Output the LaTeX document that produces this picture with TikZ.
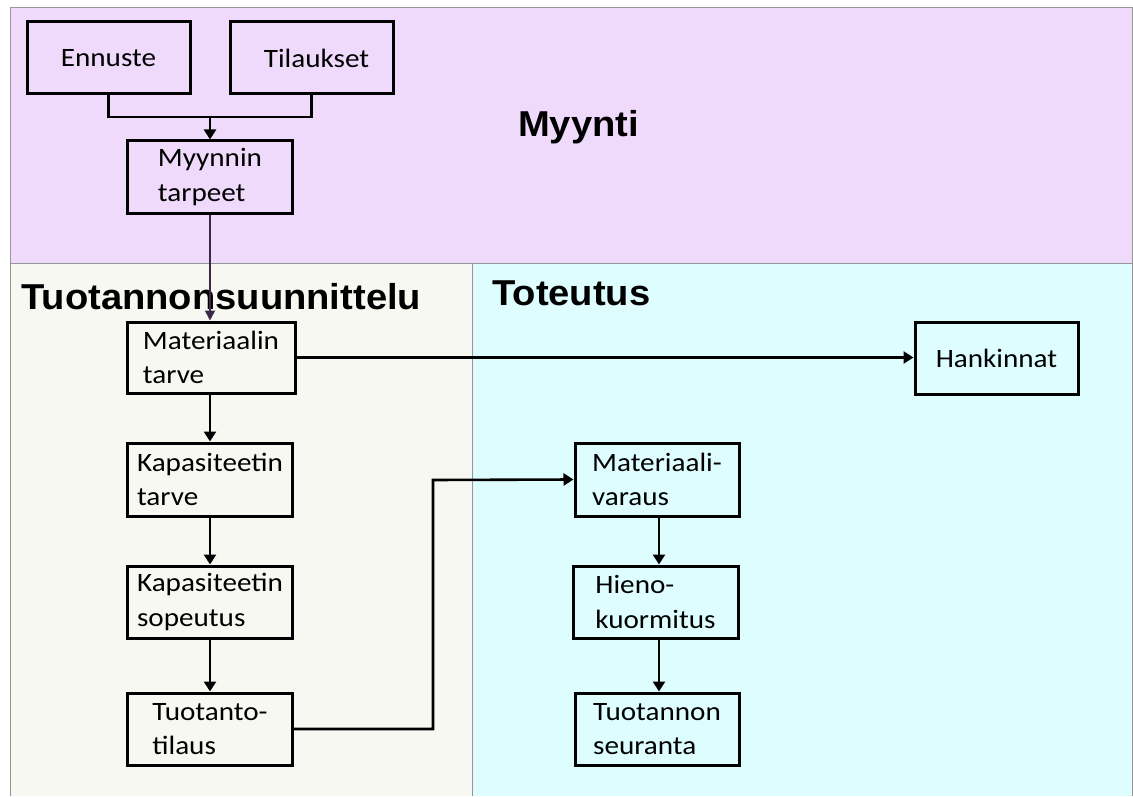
\documentclass[tikz,border=0pt]{standalone}
\usepackage{fontspec}
\usetikzlibrary{arrows.meta}
\newfontfamily\boxfont[FakeStretch=1.1]{Carlito}
\newfontfamily\titlefont[FakeStretch=1.06]{Liberation Sans}
\definecolor{salesbg}{RGB}{239,218,252}
\definecolor{planbg}{RGB}{248,248,242}
\definecolor{execbg}{RGB}{221,253,255}
\definecolor{panelline}{RGB}{150,150,150}
\definecolor{feedline}{RGB}{58,40,70}
\tikzset{
  flowbox/.style={draw=black, line width=3pt, inner sep=0pt, align=left,
    minimum width=#1, minimum height=72pt,
    font=\boxfont\fontsize{26.5}{34.5}\selectfont},
  flowbox/.default=165pt,
  flowarrow/.style={line width=2.6pt, -{Triangle[length=10pt,width=12pt]}},
  flowline/.style={line width=2.6pt},
  thinarrow/.style={line width=1.6pt, color=feedline, -{Triangle[length=10pt,width=10pt]}},
  paneltitle/.style={anchor=base west, inner sep=0pt,
    font=\titlefont\bfseries\fontsize{36}{40}\selectfont}
}
\begin{document}
\begin{tikzpicture}[x=1pt,y=-1pt]
\useasboundingbox (0,0) rectangle (1133,797);
% panel backgrounds
\fill[salesbg] (10,8) rectangle (1132,263);
\fill[planbg] (10,263) rectangle (472,796);
\fill[execbg] (472,263) rectangle (1132,796);
\draw[panelline, line width=1pt] (10,796) -- (10,8) -- (1132,8) -- (1132,796);
\draw[panelline, line width=1pt] (10,263) -- (1132,263);
\draw[panelline, line width=1pt] (472,263) -- (472,796);

% panel titles
\node[paneltitle] (tmyynti) at (518,137) {Myynti};
\node[paneltitle] (tsuunn) at (21,309) {Tuotannonsuunnittelu};
\node[paneltitle] (ttoteutus) at (492,305) {Toteutus};

% sales boxes
\node[flowbox=163pt] (ennuste) at (108.5,58) {Ennuste};
\node[flowbox=163pt] (tilaukset) at (311.5,58) {\hspace*{10pt}Tilaukset};
\node[flowbox] (myyntar) at (210,177) {Myynnin\\tarpeet};

% planning column
\node[flowbox=168pt, minimum height=71pt] (mattarve) at (211,357.5) {Materiaalin\\tarve};
\node[flowbox, minimum height=73pt] (kaptarve) at (210,479.5) {Kapasiteetin\\tarve};
\node[flowbox] (kapsop) at (210,602) {Kapasiteetin\\sopeutus};
\node[flowbox] (tilaus) at (210,729) {Tuotanto-\\tilaus};

% execution column
\node[flowbox=163pt] (hankinnat) at (996.5,358) {Hankinnat};
\node[flowbox=164pt, minimum height=73pt] (matvaraus) at (657,479.5) {Materiaali-\\varaus};
\node[flowbox] (hieno) at (655.5,602) {Hieno-\\kuormitus};
\node[flowbox=164pt] (seuranta) at (657,729) {Tuotannon\\seuranta};

% connectors
\coordinate (join) at (210,117);
\draw[flowline] (ennuste.south) |- (join) -| (tilaukset.south);
\draw[flowarrow] (join) -- (join |- myyntar.north);
\draw[thinarrow] (myyntar.south) -- (myyntar.south |- mattarve.north);
\draw[flowarrow] (mattarve.east) -- (hankinnat.west |- mattarve.east);
\draw[flowarrow] (kaptarve.north |- mattarve.south) -- (kaptarve.north);
\draw[flowarrow] (kaptarve.south) -- (kapsop.north);
\draw[flowarrow] (kapsop.south) -- (tilaus.north);
\coordinate (bend) at (433,480);
\draw[flowarrow] (tilaus.east) -| (bend) -- (matvaraus.west);
\coordinate (mvx) at (659,0);
\draw[flowarrow] (mvx |- matvaraus.south) -- (mvx |- hieno.north);
\draw[flowarrow] (mvx |- hieno.south) -- (mvx |- seuranta.north);
\end{tikzpicture}
\end{document}
